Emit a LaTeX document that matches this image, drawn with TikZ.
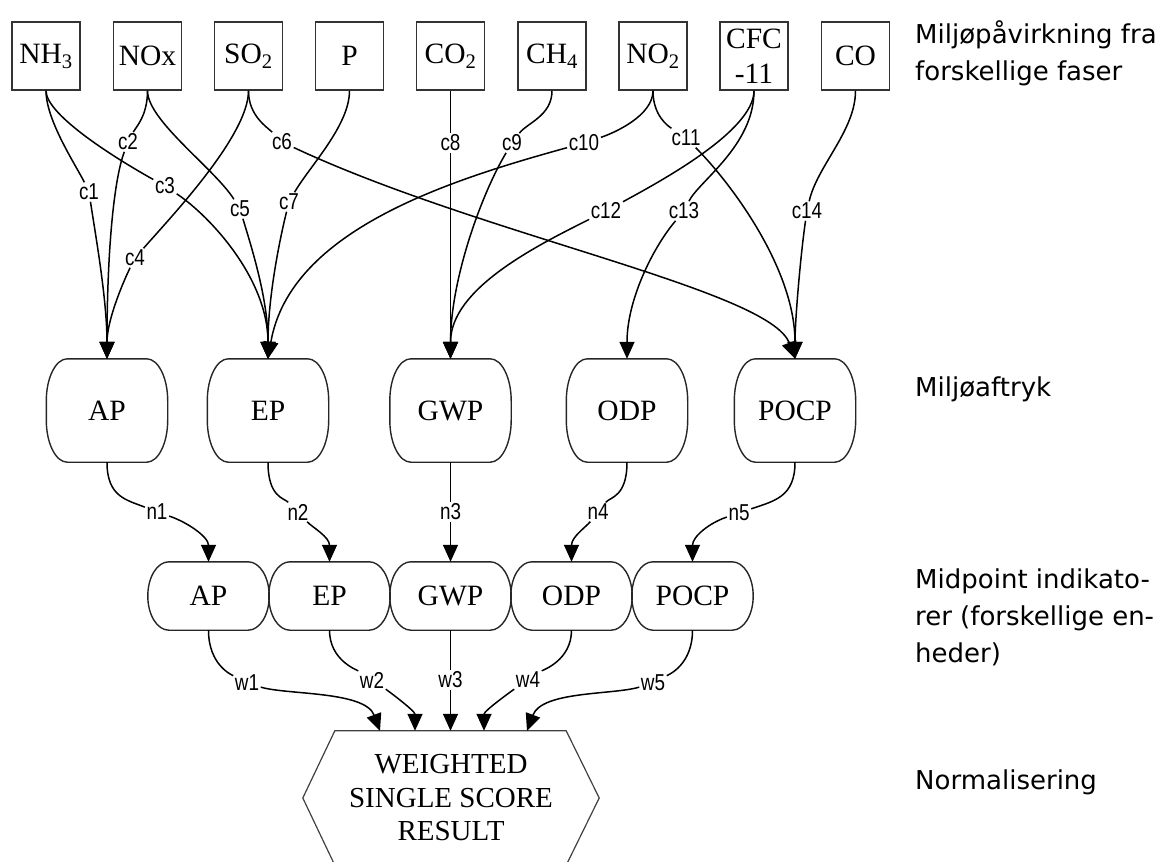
\documentclass[tikz,border=0pt]{standalone}
\usepackage{fontspec}
\usepackage{graphicx}
\setmainfont{Liberation Serif}
\newfontfamily\labfont{Liberation Sans}
\newfontfamily\sidefont{DejaVu Sans}
\usetikzlibrary{arrows.meta,calc}
\newcommand{\lb}[1]{\scalebox{0.82}[1]{#1}}
\newcommand{\bulgebox}[3]{%
  \draw[boxline] let \p1=(#1.north west), \p2=(#1.south east) in
   (\x1+#2,\y1) -- (\x2-#2,\y1)
   .. controls (\x2-0.45*#2,\y1) and (\x2,\y1-0.45*#3) .. (\x2,\y1-#3)
   -- (\x2,\y2+#3)
   .. controls (\x2,\y2+0.45*#3) and (\x2-0.45*#2,\y2) .. (\x2-#2,\y2)
   -- (\x1+#2,\y2)
   .. controls (\x1+0.45*#2,\y2) and (\x1,\y2+0.45*#3) .. (\x1,\y2+#3)
   -- (\x1,\y1-#3)
   .. controls (\x1,\y1-0.45*#3) and (\x1+0.45*#2,\y1) .. cycle;}
\tikzset{
  boxline/.style={draw=black!85, line width=1.4pt},
  srcbox/.style={draw=black!80, line width=1.5pt, minimum width=68pt, minimum height=68pt,
    inner sep=0pt, align=center, font=\fontsize{29.5}{35}\selectfont},
  impbox/.style={minimum width=121pt, minimum height=103pt, inner sep=0pt,
    font=\fontsize{29.5}{33}\selectfont},
  midbox/.style={minimum width=121pt, minimum height=68pt, inner sep=0pt,
    font=\fontsize{29.5}{33}\selectfont},
  lab/.style={inner sep=1.5pt, font=\labfont\fontsize{23}{24}\selectfont},
  edge/.style={draw=black, line width=1.5pt},
  arr/.style={edge, -{Triangle[length=17pt,width=15pt]}},
  side/.style={inner sep=0pt, align=left, anchor=north west, font=\sidefont\fontsize{26}{37}\selectfont},
}
\begin{document}
\begin{tikzpicture}[x=1pt,y=1pt]
\useasboundingbox (0,0) rectangle (1168,-862);
\clip (0,0) rectangle (1168,-862);
% source boxes
\node[srcbox] (NH3) at (46,-56) {NH\textsubscript{3}};
\node[srcbox] (NOx) at (147.5,-56) {NOx};
\node[srcbox] (SO2) at (248.5,-56) {SO\textsubscript{2}};
\node[srcbox] (P) at (349.5,-56) {P};
\node[srcbox] (CO2) at (450.5,-56) {CO\textsubscript{2}};
\node[srcbox] (CH4) at (552,-56) {CH\textsubscript{4}};
\node[srcbox] (NO2) at (653,-56) {NO\textsubscript{2}};
\node[srcbox] (CFC) at (754,-56) {CFC\\-11};
\node[srcbox] (CO) at (855.5,-56) {CO};
% impact boxes
\node[impbox] (AP) at (107,-410.5) {AP};
\node[impbox] (EP) at (268,-410.5) {EP};
\node[impbox] (GWP) at (450.5,-410.5) {GWP};
\node[impbox] (ODP) at (627,-410.5) {ODP};
\node[impbox] (POCP) at (795,-410.5) {POCP};
\foreach \bx in {AP,EP,GWP,ODP,POCP} {\bulgebox{\bx}{21pt}{42pt}}
% midpoint boxes
\node[midbox] (AP2) at (208.5,-596) {AP};
\node[midbox] (EP2) at (329.5,-596) {EP};
\node[midbox] (GWP2) at (450.5,-596) {GWP};
\node[midbox] (ODP2) at (571.5,-596) {ODP};
\node[midbox] (POCP2) at (692.5,-596) {POCP};
\foreach \bx in {AP2,EP2,GWP2,ODP2,POCP2} {\bulgebox{\bx}{21pt}{34pt}}
% result hexagon
\node[minimum width=296pt, minimum height=134pt, inner sep=0pt, align=center,
  font=\fontsize{29}{33.5}\selectfont] (W) at (451,-798) {WEIGHTED\\SINGLE SCORE\\RESULT};
\draw[draw=black!75, line width=1.2pt] (W.west) -- ($(W.north west)+(32,0)$) -- ($(W.north east)+(-33,0)$)
  -- (W.east) -- ($(W.south east)+(-33,0)$) -- ($(W.south west)+(32,0)$) -- cycle;
\coordinate (t1) at ($(W.north)+(-71,0)$);
\coordinate (t2) at ($(W.north)+(-36,0)$);
\coordinate (t3) at ($(W.north)+(-0.5,0)$);
\coordinate (t4) at ($(W.north)+(33,0)$);
\coordinate (t5) at ($(W.north)+(76,0)$);
% labels
\node[lab] (c1) at (89,-192) {\lb{c1}};
\node[lab] (c2) at (128,-142) {\lb{c2}};
\node[lab] (c3) at (165,-186) {\lb{c3}};
\node[lab] (c4) at (135,-258) {\lb{c4}};
\node[lab] (c5) at (240,-209) {\lb{c5}};
\node[lab] (c6) at (282,-142) {\lb{c6}};
\node[lab] (c7) at (289,-202) {\lb{c7}};
\node[lab] (c8) at (450.5,-143) {\lb{c8}};
\node[lab] (c9) at (512,-143) {\lb{c9}};
\node[lab] (c10) at (584,-143) {\lb{c10}};
\node[lab] (c11) at (686,-138) {\lb{c11}};
\node[lab] (c12) at (606,-211) {\lb{c12}};
\node[lab] (c13) at (684,-211) {\lb{c13}};
\node[lab] (c14) at (807,-211) {\lb{c14}};
\node[lab] (n1) at (157,-512) {\lb{n1}};
\node[lab] (n2) at (298,-512) {\lb{n2}};
\node[lab] (n3) at (450.5,-512) {\lb{n3}};
\node[lab] (n4) at (598,-512) {\lb{n4}};
\node[lab] (n5) at (739,-513) {\lb{n5}};
\node[lab] (w1) at (247,-683) {\lb{w1}};
\node[lab] (w2) at (372,-680) {\lb{w2}};
\node[lab] (w3) at (450.5,-680) {\lb{w3}};
\node[lab] (w4) at (528,-680) {\lb{w4}};
\node[lab] (w5) at (653,-683) {\lb{w5}};
% top edges
\draw[edge] (NH3.south) .. controls +(0,-30) and +(-12,25) .. (c1);
\draw[arr] (c1) .. controls +(6,-40) and +(0,60) .. (AP.north);
\draw[edge] (NOx.south) .. controls +(0,-25) and +(8,15) .. (c2);
\draw[arr] (c2) .. controls +(-15,-40) and +(0,100) .. (AP.north);
\draw[edge] (NH3.south) .. controls +(0,-25) and +(-45,25) .. (c3);
\draw[arr] (c3) .. controls +(45,-30) and +(0,80) .. (EP.north);
\draw[edge] (SO2.south) .. controls +(0,-45) and +(35,40) .. (c4);
\draw[arr] (c4) .. controls +(-10,-20) and +(0,40) .. (AP.north);
\draw[edge] (NOx.south) .. controls +(0,-30) and +(-25,40) .. (c5);
\draw[arr] (c5) .. controls +(12,-40) and +(0,60) .. (EP.north);
\draw[edge] (SO2.south) .. controls +(0,-25) and +(-15,15) .. (c6);
\draw[arr] (c6) .. controls (480,-235) and (770,-290) .. (POCP.north);
\draw[edge] (P.south) .. controls +(0,-35) and +(20,35) .. (c7);
\draw[arr] (c7) .. controls +(-10,-40) and +(0,60) .. (EP.north);
\draw[edge] (CO2.south) -- (c8);
\draw[arr] (c8) -- (GWP.north);
\draw[edge] (CH4.south) .. controls +(0,-25) and +(15,20) .. (c9);
\draw[arr] (c9) .. controls +(-30,-50) and +(0,80) .. (GWP.north);
\draw[edge] (NO2.south) .. controls +(0,-25) and +(30,10) .. (c10);
\draw[arr] (c10) .. controls (450,-180) and (290,-230) .. (EP.north);
\draw[edge] (NO2.south) .. controls +(0,-25) and +(-18,12) .. (c11);
\draw[arr] (c11) .. controls +(45,-45) and +(0,90) .. (POCP.north);
\draw[edge] (CFC.south) .. controls +(0,-40) and +(55,30) .. (c12);
\draw[arr] (c12) .. controls +(-70,-35) and +(0,70) .. (GWP.north);
\draw[edge] (CFC.south) .. controls +(0,-55) and +(15,30) .. (c13);
\draw[arr] (c13) .. controls +(-30,-35) and +(0,60) .. (ODP.north);
\draw[edge] (CO.south) .. controls +(0,-40) and +(10,45) .. (c14);
\draw[arr] (c14) .. controls +(-6,-40) and +(0,40) .. (POCP.north);
% normalisation edges
\draw[edge] (AP.south) .. controls +(0,-35) and +(-30,12) .. (n1);
\draw[arr] (n1) .. controls +(30,-10) and +(0,25) .. (AP2.north);
\draw[edge] (EP.south) .. controls +(0,-35) and +(-14,14) .. (n2);
\draw[arr] (n2) .. controls +(14,-15) and +(0,25) .. (EP2.north);
\draw[edge] (GWP.south) -- (n3);
\draw[arr] (n3) -- (GWP2.north);
\draw[edge] (ODP.south) .. controls +(0,-35) and +(12,15) .. (n4);
\draw[arr] (n4) .. controls +(-12,-15) and +(0,25) .. (ODP2.north);
\draw[edge] (POCP.south) .. controls +(0,-35) and +(35,12) .. (n5);
\draw[arr] (n5) .. controls +(-30,-10) and +(0,25) .. (POCP2.north);
% weighting edges
\draw[edge] (AP2.south) .. controls +(0,-35) and +(-15,8) .. (w1);
\draw[arr] (w1) .. controls +(40,-12) and +(-15,40) .. (t1);
\draw[edge] (EP2.south) .. controls +(0,-30) and +(-15,10) .. (w2);
\draw[arr] (w2) .. controls +(15,-10) and +(0,20) .. (t2);
\draw[edge] (GWP2.south) -- (w3);
\draw[arr] (w3) -- (t3);
\draw[edge] (ODP2.south) .. controls +(0,-30) and +(15,10) .. (w4);
\draw[arr] (w4) .. controls +(-15,-10) and +(0,20) .. (t4);
\draw[edge] (POCP2.south) .. controls +(0,-35) and +(15,8) .. (w5);
\draw[arr] (w5) .. controls +(-40,-12) and +(15,40) .. (t5);
% side texts
\node[side] (s1) at (915,-20) {Miljøpåvirkning fra\\forskellige faser};
\node[side] (s2) at (915,-377) {Miljøaftryk};
\node[side] (s3) at (915,-569) {Midpoint indikato-\\rer (forskellige en-\\heder)};
\node[side] (s4) at (915,-770) {Normalisering};
\end{tikzpicture}
\end{document}
